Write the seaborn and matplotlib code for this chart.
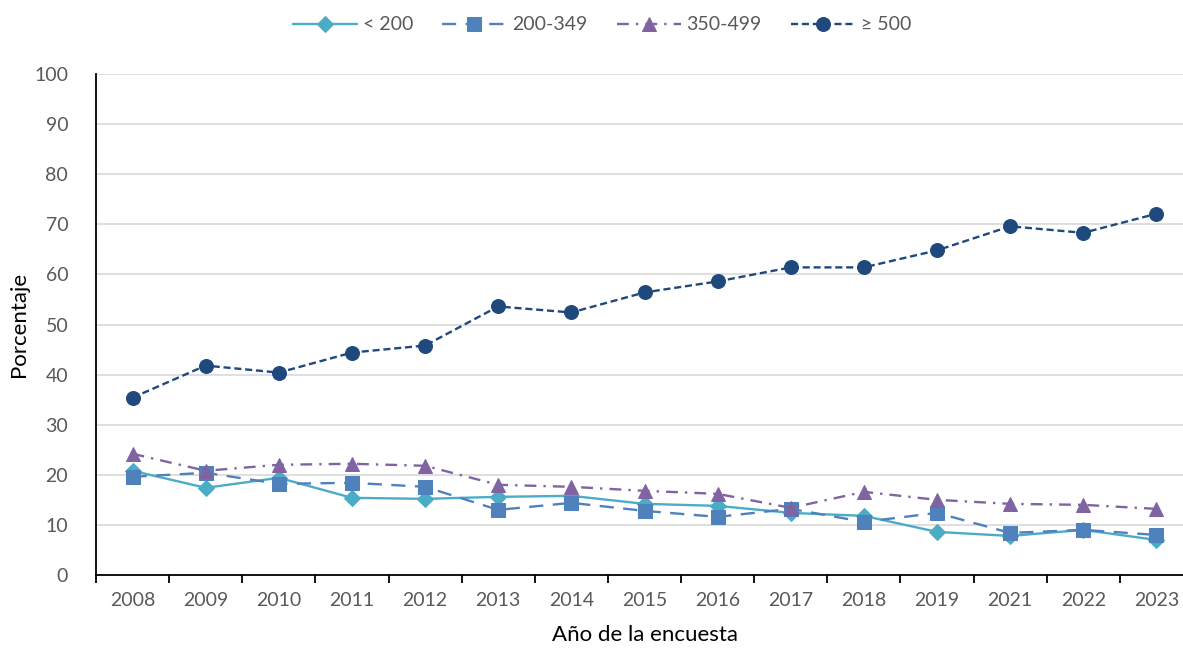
import pandas as pd
import matplotlib
matplotlib.use("Agg")
import matplotlib.pyplot as plt
import seaborn as sns

years = ["2008", "2009", "2010", "2011", "2012", "2013", "2014", "2015",
         "2016", "2017", "2018", "2019", "2021", "2022", "2023"]
lt200 = [20.8, 17.4, 19.4, 15.4, 15.2, 15.6, 15.8, 14.2, 13.8, 12.4, 11.8, 8.6, 7.8, 9.0, 7.0]
s200_349 = [19.6, 20.4, 18.2, 18.4, 17.6, 13.0, 14.4, 12.8, 11.6, 13.2, 10.6, 12.4, 8.4, 9.0, 8.0]
s350_499 = [24.2, 20.8, 22.0, 22.2, 21.8, 18.0, 17.6, 16.8, 16.2, 13.4, 16.6, 15.0, 14.2, 14.0, 13.2]
ge500 = [35.4, 41.8, 40.4, 44.4, 45.8, 53.6, 52.4, 56.4, 58.6, 61.4, 61.4, 64.8, 69.6, 68.3, 72.1]

series = ["< 200", "200-349", "350-499", "≥ 500"]
values = [lt200, s200_349, s350_499, ge500]
colors = ["#4BACC6", "#4F81BD", "#8064A2", "#1F497D"]
markers = ["D", "s", "^", "o"]
dashes = [(None, None), (6, 4), (5, 3, 1, 3), (3, 1.6)]
msizes = [8, 10, 10, 10]

rows = []
for name, vals in zip(series, values):
    for i, v in enumerate(vals):
        rows.append({"pos": i, "serie": name, "valor": v})
df = pd.DataFrame(rows)

sns.set_theme(style="white")
plt.rcParams['font.family'] = ['Lato', 'DejaVu Sans']
text_col = "#595959"

fig = plt.figure(figsize=(11.83, 6.48), dpi=100)
ax = fig.add_axes([96 / 1183, 1 - 575 / 648, (1193 - 96) / 1183, (575 - 74) / 648])

for name, c, m, d, ms in zip(series, colors, markers, dashes, msizes):
    sub = df[df["serie"] == name]
    sns.lineplot(data=sub, x="pos", y="valor", color=c, marker=m, markersize=ms,
                 markeredgecolor=c, linewidth=1.7, label=name, ax=ax)
    line = ax.lines[-1]
    if d[0] is not None:
        line.set_dashes(d)

ax.set_xlim(-0.5, len(years) - 0.5)
ax.set_ylim(0, 100)
ax.set_yticks(range(0, 101, 10))
ax.yaxis.grid(True, color="#D9D9D9", linewidth=1.2)
ax.set_axisbelow(True)
ax.set_xticks(range(len(years)))
ax.set_xticklabels(years)
ax.set_xticks([i - 0.5 for i in range(len(years) + 1)], minor=True)
ax.tick_params(axis="x", which="major", length=0, pad=12, labelsize=14, labelcolor=text_col)
ax.tick_params(axis="x", which="minor", bottom=True, length=6, width=1.3, color="black", direction="out")
ax.tick_params(axis="y", length=0, pad=20, labelsize=14, labelcolor=text_col)

for s in ["top", "right"]:
    ax.spines[s].set_visible(False)
for s in ["left", "bottom"]:
    ax.spines[s].set_color("black")
    ax.spines[s].set_linewidth(1.3)

ax.set_xlabel("Año de la encuesta", fontsize=16, color="black", labelpad=12)
ax.set_ylabel("Porcentaje", fontsize=16, color="black", labelpad=4)

# legend centred on the figure, not the (clipped) axes
leg = fig.legend(*ax.get_legend_handles_labels(), loc="center", bbox_to_anchor=(602 / 1183, 1 - 25 / 648),
                 ncol=4, frameon=False, fontsize=14, handlelength=3.3, columnspacing=1.5,
                 handletextpad=0.3)
ax.get_legend().remove()
for t in leg.get_texts():
    t.set_color(text_col)

fig.savefig("out.png", dpi=100)
